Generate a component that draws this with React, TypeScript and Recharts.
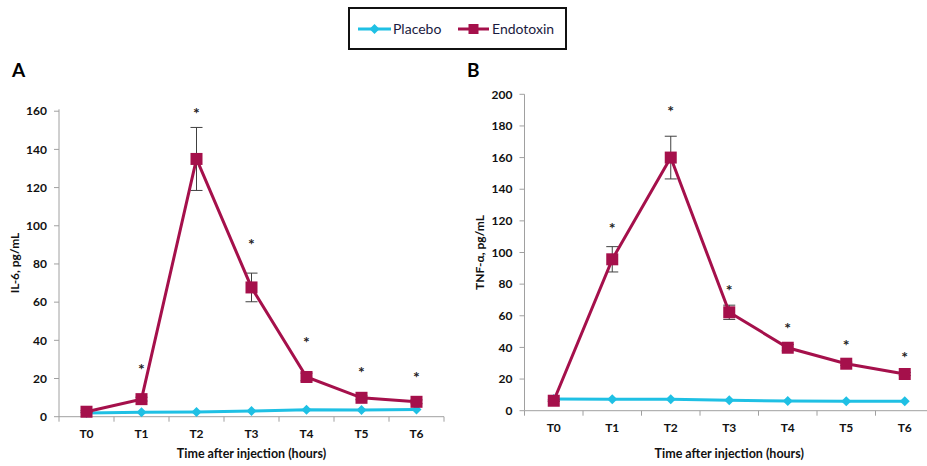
import React from 'react'
import { LineChart, Line, XAxis, YAxis, ErrorBar } from 'recharts'

const categories = ['T0', 'T1', 'T2', 'T3', 'T4', 'T5', 'T6']

// panel A: IL-6
const il6Placebo = [2.0, 2.3, 2.5, 3.0, 3.7, 3.5, 3.8]
const il6Endotoxin = [2.6, 9.2, 135, 67.7, 20.8, 9.9, 7.8]
const il6EndotoxinErr = [0.5, 1, 16.5, 7.5, 2, 1, 1]
const il6Stars = [null, 27, 161, 92.5, 41, 25.3, 22.7]
const il6Ticks = [0, 20, 40, 60, 80, 100, 120, 140, 160]

// panel B: TNF-alpha
const tnfPlacebo = [7.4, 7.3, 7.3, 6.6, 6.1, 6.0, 6.0]
const tnfEndotoxin = [6.3, 95.7, 160, 62.2, 39.8, 29.7, 23.2]
const tnfEndotoxinErr = [0.5, 8, 13.5, 4.5, 2, 1, 1]
const tnfStars = [null, 117.6, 192, 78.4, 54.6, 43.6, 36.3]
const tnfTicks = [0, 20, 40, 60, 80, 100, 120, 140, 160, 180, 200]

const PLACEBO = '#1fc0e4'
const ENDO = '#a5104b'
const AXIS = '#a0a0a0'
const FONT = 'Lato, "Open Sans", sans-serif'
const X_TICK_SIZE = 5
const X_TICK_MARGIN = 8

const SquareDot = (props: any) => {
  const { cx, cy } = props
  if (cx == null || cy == null) return null
  return <rect x={cx - 6} y={cy - 6} width={12} height={12} fill={ENDO} />
}

const DiamondDot = (props: any) => {
  const { cx, cy } = props
  if (cx == null || cy == null) return null
  const r = 5
  return (
    <path
      d={`M${cx},${cy - r}L${cx + r},${cy}L${cx},${cy + r}L${cx - r},${cy}Z`}
      fill={PLACEBO}
    />
  )
}

const renderStar = (props: any) => {
  const { x, y, value } = props
  if (value == null || y == null || isNaN(y)) return null
  return (
    <text x={x} y={y} dy="0.6em" textAnchor="middle" fontSize={16} fontWeight={700} fill="#222" fontFamily={FONT}>
      *
    </text>
  )
}

const makeXTick = (bw: number) => (props: any) => {
  const { x, y, payload, index, visibleTicksCount } = props
  const axisY = y - X_TICK_SIZE - X_TICK_MARGIN
  return (
    <g>
      <line x1={x - bw / 2} x2={x - bw / 2} y1={axisY} y2={axisY + 5} stroke={AXIS} />
      {index === visibleTicksCount - 1 && (
        <line x1={x + bw / 2} x2={x + bw / 2} y1={axisY} y2={axisY + 5} stroke={AXIS} />
      )}
      <text x={x} y={y} dy="0.68em" textAnchor="middle" fontSize={12} fontWeight={700} fill="#111" fontFamily={FONT}>
        {payload.value}
      </text>
    </g>
  )
}

interface PanelProps {
  left: number
  width: number
  plotLeft: number
  plotRight: number
  plotTop: number
  plotBottom: number
  ticks: number[]
  yLabel: string
  placebo: number[]
  endo: number[]
  err: number[]
  stars: (number | null)[]
}

function Panel({ left, width, plotLeft, plotRight, plotTop, plotBottom, ticks, yLabel, placebo, endo, err, stars }: PanelProps) {
  const height = 466
  const data = categories.map((c, i) => ({
    name: c,
    placebo: placebo[i],
    endo: endo[i],
    err: err[i],
    star: stars[i],
  }))
  const bw = (plotRight - plotLeft) / categories.length
  return (
    <div style={{ position: 'absolute', left, top: 0 }}>
      <LineChart
        width={width}
        height={height}
        data={data}
        margin={{ top: plotTop, right: width - plotRight, left: 0, bottom: 0 }}
      >
        <XAxis
          dataKey="name"
          scale="band"
          height={height - plotBottom}
          axisLine={{ stroke: AXIS }}
          tickLine={false}
          tickSize={X_TICK_SIZE}
          tickMargin={X_TICK_MARGIN}
          tick={makeXTick(bw)}
          interval={0}
          label={{
            value: 'Time after injection (hours)',
            position: 'insideBottom',
            offset: 8,
            fontSize: 12.5,
            fontWeight: 700,
            fill: '#111',
            fontFamily: FONT,
          }}
        />
        <YAxis
          width={plotLeft}
          domain={[ticks[0], ticks[ticks.length - 1]]}
          ticks={ticks}
          interval={0}
          axisLine={{ stroke: AXIS }}
          tickLine={{ stroke: AXIS }}
          tickSize={5}
          tickMargin={7}
          tick={{ fontSize: 12, fontWeight: 700, fill: '#111', fontFamily: FONT }}
          label={{
            value: yLabel,
            angle: -90,
            position: 'insideLeft',
            offset: 15,
            fontSize: 12,
            fontWeight: 700,
            fill: '#111',
            fontFamily: FONT,
            style: { textAnchor: 'middle' },
          }}
        />
        <Line
          dataKey="placebo"
          stroke={PLACEBO}
          strokeWidth={3}
          dot={<DiamondDot />}
          activeDot={false}
          isAnimationActive={false}
        />
        <Line
          dataKey="endo"
          stroke={ENDO}
          strokeWidth={3}
          dot={<SquareDot />}
          activeDot={false}
          isAnimationActive={false}
        >
          <ErrorBar dataKey="err" width={6} strokeWidth={1} stroke="#404040" direction="y" />
        </Line>
        <Line
          dataKey="star"
          stroke="none"
          dot={false}
          activeDot={false}
          label={renderStar}
          isAnimationActive={false}
        />
      </LineChart>
    </div>
  )
}

function Legend() {
  return (
    <div
      style={{
        position: 'absolute',
        left: 348,
        top: 7,
        width: 215,
        height: 39,
        border: '2px solid #111',
        fontFamily: FONT,
        fontSize: 14,
        color: '#1a1a40',
      }}
    >
      <svg width={215} height={39} style={{ position: 'absolute', left: 0, top: 0 }}>
        <line x1={8} x2={41} y1={20} y2={20} stroke={PLACEBO} strokeWidth={3} />
        <path d="M24.5,15L29.5,20L24.5,25L19.5,20Z" fill={PLACEBO} />
        <text x={43} y={25} fontSize={14} fill="#1a1a40" fontFamily={FONT}>Placebo</text>
        <line x1={108} x2={139} y1={20} y2={20} stroke={ENDO} strokeWidth={3} />
        <rect x={118.5} y={15} width={10} height={10} fill={ENDO} />
        <text x={142} y={25} fontSize={14} fill="#1a1a40" fontFamily={FONT}>Endotoxin</text>
      </svg>
    </div>
  )
}

export default function App() {
  return (
    <div
      style={{
        position: 'absolute',
        left: 0,
        top: 0,
        width: 927,
        height: 466,
        overflow: 'hidden',
        background: '#fff',
      }}
    >
      <Legend />
      <div style={{ position: 'absolute', left: 12, top: 58, fontFamily: FONT, fontWeight: 700, fontSize: 19, color: '#000' }}>A</div>
      <div style={{ position: 'absolute', left: 467, top: 58, fontFamily: FONT, fontWeight: 700, fontSize: 19, color: '#000' }}>B</div>
      <Panel
        left={0}
        width={470}
        plotLeft={59}
        plotRight={444}
        plotTop={109.3}
        plotBottom={416.7}
        ticks={il6Ticks}
        yLabel="IL-6, pg/mL"
        placebo={il6Placebo}
        endo={il6Endotoxin}
        err={il6EndotoxinErr}
        stars={il6Stars}
      />
      <Panel
        left={465}
        width={480}
        plotLeft={59.5}
        plotRight={469}
        plotTop={94.3}
        plotBottom={410.7}
        ticks={tnfTicks}
        yLabel="TNF-α, pg/mL"
        placebo={tnfPlacebo}
        endo={tnfEndotoxin}
        err={tnfEndotoxinErr}
        stars={tnfStars}
      />
    </div>
  )
}
